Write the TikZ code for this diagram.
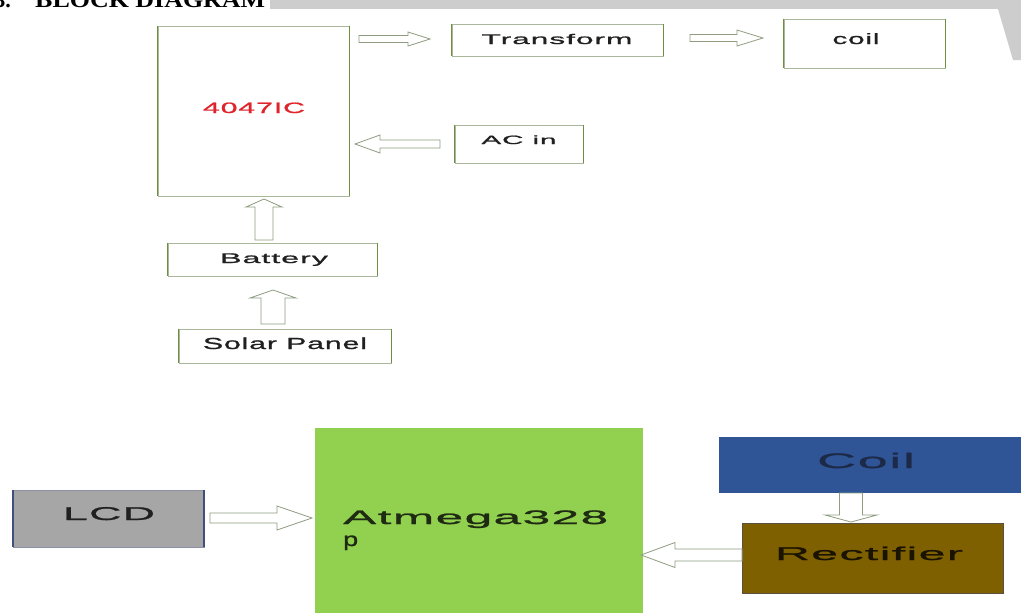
\documentclass[tikz,border=0pt]{standalone}
\usepackage{fontspec}
\usepackage{graphicx}
\setmainfont{Liberation Sans}
\newfontfamily\wf[FakeStretch=2.1,LetterSpace=6,FakeBold=1.2]{Liberation Sans}
\newfontfamily\hf{Liberation Serif}
\usetikzlibrary{calc}
\definecolor{framelt}{HTML}{A9B79A}
\definecolor{sidec}{HTML}{6F8F3F}
\definecolor{arrowc}{HTML}{8E9C80}
\definecolor{icred}{HTML}{E0242B}
\definecolor{txt}{HTML}{202020}
\definecolor{lcdgray}{HTML}{A6A6A6}
\definecolor{lcdside}{HTML}{3F4F7F}
\definecolor{lcdtb}{HTML}{8C92A4}
\definecolor{atmgreen}{HTML}{92D050}
\definecolor{atmtxt}{HTML}{1E2A12}
\definecolor{coilblue}{HTML}{2F5597}
\definecolor{coiltxt}{HTML}{1C2A48}
\definecolor{rectbrown}{HTML}{7F6000}
\definecolor{rectedge}{HTML}{5A5040}
\definecolor{recttxt}{HTML}{1A1300}
\definecolor{wmgray}{HTML}{CDCDCD}
\newcommand\wt[3]{\resizebox{#2pt}{\height}{\fontsize{#1}{#1}\wf #3}}
% block arrow: start, end, shaft half width, head half width, head length
\newcommand\barrow[5]{%
  \coordinate (tmph) at ($(#2)!#5!(#1)$);
  \draw[arrowline] ($(#1)!#3!90:(#2)$) -- ($(tmph)!#3!90:(#2)$) -- ($(tmph)!#4!90:(#2)$)
    -- (#2) -- ($(tmph)!#4!-90:(#2)$) -- ($(tmph)!#3!-90:(#2)$) -- ($(#1)!#3!-90:(#2)$) -- cycle;}
\tikzset{
  frame/.style={draw=framelt, line width=0.8pt, fill=white, inner sep=0pt},
  lab/.style={inner sep=0pt, text=txt, anchor=base},
  arrowline/.style={draw=arrowc, line width=0.8pt, fill=white, line join=miter},
  side/.style={draw=sidec, line width=1.6pt},
}
\begin{document}
\begin{tikzpicture}[x=1pt,y=-1pt]
\useasboundingbox (0,0) rectangle (1021,613);
\fill[white] (0,0) rectangle (1021,613);
% watermark remnants at the top
\fill[wmgray] (270,0) rectangle (1021,9);
\fill[wmgray] (998,9) -- (1021,9) -- (1021,60) -- (1013,60) -- cycle;
% cut-off heading
\node[inner sep=0pt, anchor=base east] (hnum) at (11,8) {\fontsize{22}{22}\hf\bfseries 3.};
\node[inner sep=0pt, anchor=base west] (head) at (35,8) {\resizebox{230pt}{\height}{\fontsize{22}{22}\hf\bfseries BLOCK DIAGRAM}};

% ---------- upper diagram ----------
\node[frame, minimum width=191pt, minimum height=170pt] (ic) at (253.5,111) {};
\node[frame, minimum width=211pt, minimum height=32pt] (tr) at (557.5,40) {};
\node[frame, minimum width=161pt, minimum height=49pt] (coil) at (864.5,43.5) {};
\node[frame, minimum width=128pt, minimum height=38pt] (ac) at (519,144) {};
\node[frame, minimum width=209pt, minimum height=33pt] (bat) at (272.5,259.5) {};
\node[frame, minimum width=212pt, minimum height=34pt] (sol) at (285,346) {};
\foreach \n in {ic,tr,coil,ac,bat,sol}
  \draw[side] (\n.north west) -- (\n.south west) (\n.north east) -- (\n.south east);

\node[lab, text=icred] (icT) at (254,113) {\wt{15}{102}{4047IC}};
\node[lab] (trT) at (557,44) {\wt{14}{151}{Transform}};
\node[lab] (coilT) at (856,44) {\wt{15}{47}{coil}};
\node[lab] (acT) at (519,144) {\wt{12}{75}{AC in}};
\node[lab] (batT) at (274,263) {\wt{14}{108}{Battery}};
\node[lab] (solT) at (285,349) {\wt{16}{164}{Solar Panel}};

\coordinate (a1s) at (359,39);  \coordinate (a1e) at (430,39);
\coordinate (a2s) at (690,38);  \coordinate (a2e) at (763,38);
\coordinate (a3s) at (440,144); \coordinate (a3e) at (355,144);
\coordinate (a4s) at (264,240); \coordinate (a4e) at (264,199);
\coordinate (a5s) at (273,324); \coordinate (a5e) at (273,290);
\barrow{a1s}{a1e}{3.5pt}{7pt}{22pt}
\barrow{a2s}{a2e}{3.5pt}{8pt}{26pt}
\barrow{a3s}{a3e}{4pt}{9pt}{25pt}
\barrow{a4s}{a4e}{9pt}{18pt}{8pt}
\barrow{a5s}{a5e}{12pt}{23pt}{8pt}

% ---------- lower diagram ----------
\node[fill=lcdgray, draw=lcdtb, line width=0.8pt, inner sep=0pt, minimum width=191pt, minimum height=57pt] (lcd) at (108.5,518.5) {};
\draw[draw=lcdside, line width=2pt] (lcd.north west) -- (lcd.south west) (lcd.north east) -- (lcd.south east);
\node[fill=atmgreen, inner sep=0pt, minimum width=328pt, minimum height=192pt] (atm) at (479,524) {};
\node[fill=coilblue, inner sep=0pt, minimum width=306pt, minimum height=56pt] (coilB) at (872,465) {};
\node[fill=rectbrown, draw=rectedge, line width=0.8pt, inner sep=0pt, minimum width=261pt, minimum height=70pt] (rect) at (872.5,558) {};

\node[lab] (lcdT) at (109,520) {\wt{18.5}{92}{LCD}};
\node[inner sep=0pt, anchor=base west, text=atmtxt] (atmT) at (343,524) {\wt{19.5}{265}{Atmega328}};
\node[inner sep=0pt, anchor=base west, text=atmtxt] (atmP) at (343,546) {\wt{19.5}{15}{p}};
\node[lab, text=coiltxt] (coilBT) at (866,468) {\wt{21}{98}{Coil}};
\node[lab, text=recttxt] (rectT) at (869,560) {\wt{18.5}{188}{Rectifier}};

\coordinate (a6s) at (210,518); \coordinate (a6e) at (312,518);
\coordinate (a7s) at (851,493); \coordinate (a7e) at (851,522);
\coordinate (a8s) at (742,555); \coordinate (a8e) at (641,555);
\barrow{a6s}{a6e}{5pt}{12pt}{35pt}
\barrow{a7s}{a7e}{11.5pt}{26pt}{7pt}
\barrow{a8s}{a8e}{6pt}{12.5pt}{34pt}
\end{tikzpicture}
\end{document}
